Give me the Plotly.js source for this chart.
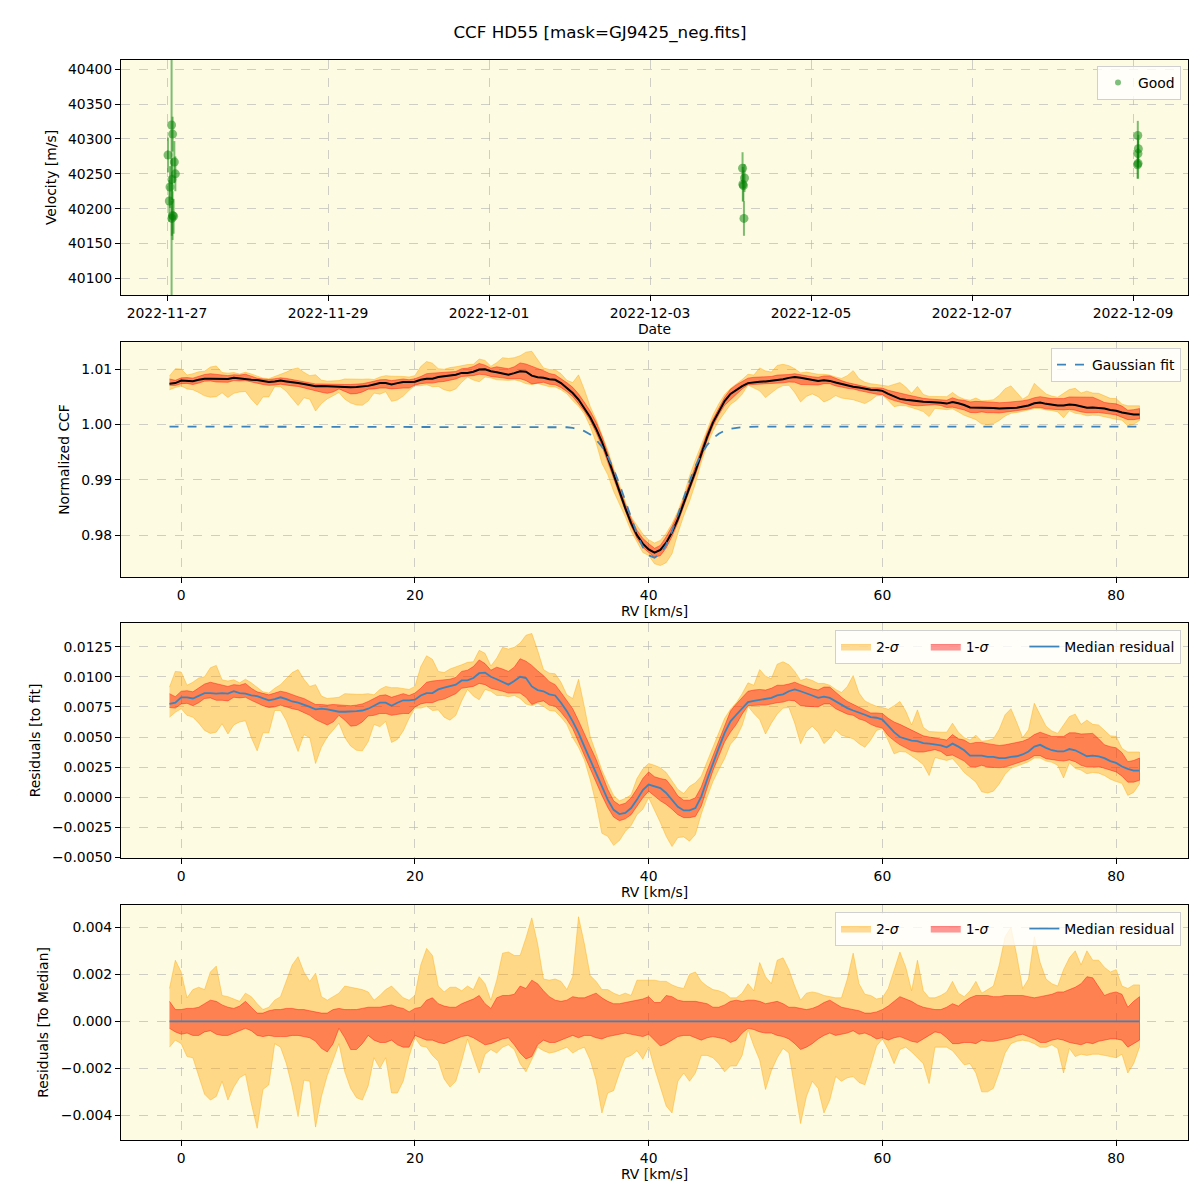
<!DOCTYPE html>
<html><head><meta charset="utf-8">
<script src="https://cdn.plot.ly/plotly-3.0.1.min.js"></script>
<style>html,body{margin:0;padding:0;background:#fff}#chart{width:1200px;height:1200px}</style>
</head><body><div id="chart"></div>
<script>
// ---------- Panel 1: RV time series ----------
const obsTimes = ['2022-11-27 00:18','2022-11-27 01:22','2022-11-27 01:40','2022-11-27 02:11','2022-11-27 02:29','2022-11-27 01:29','2022-11-27 00:54','2022-11-27 00:41','2022-11-27 01:40','2022-11-27 01:58','2022-11-27 01:26',
  '2022-12-04 03:35','2022-12-04 04:10','2022-12-04 03:40','2022-12-04 03:50','2022-12-04 04:00',
  '2022-12-09 01:25','2022-12-09 01:35','2022-12-09 01:28','2022-12-09 01:30','2022-12-09 01:20'];
const obsVelocity = [40277,40320,40307,40267,40250,40242,40231,40211,40190,40189,40186,
  40258,40244,40235,40233,40186,
  40305,40286,40279,40265,40263];
const obsError = [25,400,25,30,25,30,30,30,35,25,25,
  23,20,25,22,25,
  21,20,20,22,20];

// ---------- CCF panels (RV grid in km/s) ----------
const rv = [-1,-0.5,0,0.5,1,1.5,2,2.5,3,3.5,4,4.5,5,5.5,6,6.5,7,7.5,8,8.5,9,9.5,10,10.5,11,11.5,12,12.5,13,13.5,
14,14.5,15,15.5,16,16.5,17,17.5,18,18.5,19,19.5,20,20.5,21,21.5,22,22.5,23,23.5,24,24.5,25,25.5,26,26.5,27,27.5,28,28.5,
29,29.5,30,30.5,31,31.5,32,32.5,33,33.5,34,34.5,35,35.5,36,36.5,37,37.5,38,38.5,39,39.5,40,40.5,41,41.5,42,42.5,43,43.5,
44,44.5,45,45.5,46,46.5,47,47.5,48,48.5,49,49.5,50,50.5,51,51.5,52,52.5,53,53.5,54,54.5,55,55.5,56,56.5,57,57.5,58,58.5,
59,59.5,60,60.5,61,61.5,62,62.5,63,63.5,64,64.5,65,65.5,66,66.5,67,67.5,68,68.5,69,69.5,70,70.5,71,71.5,72,72.5,73,73.5,
74,74.5,75,75.5,76,76.5,77,77.5,78,78.5,79,79.5,80,80.5,81,81.5,82];

// Gaussian fit to the CCF (normalized)
const gaussFit = [0.99965,0.99965,0.99965,0.99965,0.99965,0.99965,0.99965,0.99965,0.99965,0.99965,
0.99965,0.99965,0.99965,0.99965,0.99965,0.99965,0.99965,0.99965,0.99965,0.99965,
0.99965,0.99965,0.99965,0.99965,0.99965,0.99965,0.99965,0.99965,0.99965,0.99965,
0.99965,0.99965,0.99965,0.99965,0.99965,0.99965,0.99965,0.99965,0.99965,0.99965,
0.99965,0.99965,0.99965,0.99965,0.99965,0.99965,0.99965,0.99965,0.99965,0.99965,
0.99965,0.99965,0.99965,0.99965,0.99965,0.99965,0.99965,0.99965,0.99965,0.99965,
0.99965,0.99965,0.99965,0.99965,0.99965,0.99965,0.99965,0.99965,0.99952,0.9994,
0.99919,0.99882,0.99822,0.99731,0.996,0.99422,0.99195,0.98923,0.98621,0.9831,
0.98022,0.97789,0.9764,0.97595,0.97662,0.9783,0.98076,0.98372,0.98683,0.98981,
0.99245,0.99462,0.9963,0.99752,0.99836,0.9989,0.99924,0.99943,0.99954,0.9996,
0.99965,0.99965,0.99965,0.99965,0.99965,0.99965,0.99965,0.99965,0.99965,0.99965,
0.99965,0.99965,0.99965,0.99965,0.99965,0.99965,0.99965,0.99965,0.99965,0.99965,
0.99965,0.99965,0.99965,0.99965,0.99965,0.99965,0.99965,0.99965,0.99965,0.99965,
0.99965,0.99965,0.99965,0.99965,0.99965,0.99965,0.99965,0.99965,0.99965,0.99965,
0.99965,0.99965,0.99965,0.99965,0.99965,0.99965,0.99965,0.99965,0.99965,0.99965,
0.99965,0.99965,0.99965,0.99965,0.99965,0.99965,0.99965,0.99965,0.99965,0.99965,
0.99965,0.99965,0.99965,0.99965,0.99965,0.99965,0.99965];

// Median residual to the fit, in units of 1e-3
const medianResidMilli = [7.75,7.85,8.3,8.3,8.2,8.45,8.65,8.65,8.6,8.65,
8.6,8.8,8.65,8.6,8.45,8.4,8.25,8.05,8.15,8.3,
8.15,7.95,7.85,7.7,7.5,7.3,7.35,7.3,7.2,7.1,
7.1,7.1,7.15,7.2,7.35,7.6,7.85,7.85,7.6,7.85,
8.05,8.05,8.1,8.45,8.65,8.65,8.95,9.1,9.2,9.35,
9.7,9.7,9.9,10.3,10.35,10.0,9.8,9.55,9.35,9.65,
10.0,9.9,9.2,8.9,8.8,8.55,8.45,7.85,7.15,6.3,
5.35,4.2,3.1,1.95,0.9,-0.2,-1.05,-1.4,-1.3,-0.9,
-0.2,0.6,1.05,0.9,0.75,0.35,-0.2,-0.8,-1.1,-1.1,
-0.9,0.05,1.45,2.85,4.1,5.35,6.3,6.85,7.4,7.9,
8.0,8.1,8.15,8.25,8.45,8.55,8.8,8.95,8.8,8.65,
8.45,8.25,8.35,8.25,7.95,7.7,7.4,7.2,7.05,6.85,
6.65,6.6,6.45,5.9,5.4,5.0,4.85,4.7,4.65,4.5,
4.45,4.4,4.3,4.15,4.45,4.2,3.9,3.45,3.45,3.45,
3.35,3.35,3.25,3.25,3.35,3.4,3.55,3.8,4.2,4.35,
4.1,3.9,3.8,3.8,4.0,3.9,3.65,3.4,3.45,3.4,
3.25,3.0,2.85,2.55,2.35,2.2,2.2];

// Spread around the median (1e-3 units): 2-sigma and 1-sigma envelopes
const sig2HiMilli = [1.4,2.6,2.1,1.0,1.35,1.45,1.35,2.1,2.35,1.1,
1.05,0.95,0.85,1.2,1.05,0.75,0.5,0.6,0.9,1.05,
1.7,2.4,2.75,2.1,1.7,2.05,1.05,0.9,1.05,1.2,
1.5,1.45,1.4,1.35,1.25,0.9,1.1,1.35,1.5,1.25,
1.0,0.9,1.1,2.4,3.1,2.8,1.5,1.25,1.45,1.45,
1.3,1.5,1.35,1.9,1.6,0.9,1.75,2.9,2.95,2.8,
2.8,3.55,4.4,3.3,1.8,1.75,1.8,1.7,1.35,1.9,
4.45,3.3,1.95,1.7,1.35,1.35,1.2,1.1,1.2,1.1,
1.75,1.75,1.75,1.75,1.7,1.7,1.55,1.45,1.4,2.0,
2.1,1.7,1.5,1.35,1.3,1.2,1.0,1.0,1.2,1.6,
1.3,2.5,1.9,1.6,2.6,2.7,2.2,1.5,0.9,1.2,
1.25,1.2,1.1,1.05,1.0,1.0,1.8,2.9,1.6,1.15,
1.1,0.95,1.0,1.4,2.2,2.95,2.3,1.3,2.6,1.3,
1.0,1.0,1.1,1.25,1.7,1.2,1.05,1.3,1.7,1.2,
1.35,1.5,2.4,3.6,4.0,2.8,1.4,1.8,3.6,2.5,
1.8,1.6,1.5,2.2,2.7,3.0,2.4,3.0,2.6,2.6,
2.3,2.1,2.2,1.5,1.4,1.55,1.55];
const sig1HiMilli = [0.85,0.5,0.5,0.55,0.55,0.6,0.75,0.9,0.85,0.7,
0.6,0.55,0.65,0.85,0.6,0.35,0.35,0.45,0.5,0.5,
0.55,0.55,0.5,0.5,0.45,0.4,0.35,0.35,0.5,0.55,
0.5,0.5,0.5,0.55,0.6,0.6,0.6,0.65,0.7,0.6,
0.55,0.4,0.55,0.6,0.9,1.0,0.75,0.65,0.6,0.6,
0.75,0.85,0.95,1.1,0.75,0.55,1.0,1.1,1.1,1.15,
1.5,1.4,1.75,1.6,1.3,1.05,0.9,0.85,0.9,1.05,
1.0,1.0,1.1,1.2,1.0,0.85,0.75,0.75,0.8,0.85,
0.9,0.95,1.05,0.8,0.8,1.1,1.05,0.9,0.85,0.85,
0.85,0.8,0.75,0.6,0.6,0.7,0.85,0.9,0.85,0.9,
0.9,0.85,0.75,0.8,0.85,0.75,0.6,0.6,0.55,0.5,
0.55,0.65,0.8,0.9,0.75,0.6,0.55,0.5,0.45,0.35,
0.35,0.4,0.5,0.65,0.85,1.05,0.95,0.85,0.7,0.6,
0.55,0.5,0.5,0.6,0.75,0.65,0.85,1.0,1.1,1.1,
1.1,1.05,1.05,1.1,1.1,1.1,1.1,1.05,1.0,1.05,
1.1,1.15,1.25,1.25,1.35,1.45,1.6,1.9,1.85,1.45,
1.1,1.2,1.25,1.15,0.6,0.85,1.05];
const sig1LoMilli = [-0.3,-0.45,-0.55,-0.5,-0.6,-0.6,-0.45,-0.4,-0.55,-0.6,
-0.6,-0.5,-0.4,-0.3,-0.4,-0.6,-0.65,-0.6,-0.65,-0.65,
-0.65,-0.6,-0.6,-0.65,-0.7,-0.85,-1.15,-1.3,-0.95,-0.3,
-0.7,-1.2,-1.2,-0.95,-0.6,-0.8,-0.9,-0.9,-0.8,-1.0,
-1.1,-1.1,-0.6,-0.7,-0.8,-0.8,-0.9,-0.95,-0.85,-0.75,
-0.65,-0.6,-0.7,-0.85,-1.0,-0.95,-0.85,-0.75,-0.7,-1.0,
-1.35,-1.6,-1.5,-1.0,-0.8,-0.9,-0.9,-0.8,-0.7,-0.6,
-0.7,-0.6,-0.6,-0.7,-0.75,-0.65,-0.6,-0.55,-0.5,-0.55,
-0.6,-0.65,-0.55,-0.8,-1.05,-0.95,-0.8,-0.65,-0.6,-0.6,
-0.7,-0.8,-0.7,-0.65,-0.7,-0.75,-0.9,-0.8,-0.5,-0.3,
-0.35,-0.45,-0.5,-0.5,-0.6,-0.65,-0.75,-0.95,-1.2,-1.1,
-0.95,-0.75,-0.6,-0.5,-0.6,-0.55,-0.5,-0.4,-0.55,-0.5,
-0.6,-0.75,-0.7,-0.8,-0.7,-0.65,-0.75,-0.85,-0.9,-0.75,
-0.6,-0.45,-0.5,-0.7,-0.95,-0.95,-0.9,-0.9,-0.95,-0.8,
-0.85,-0.85,-0.8,-0.75,-0.7,-0.6,-0.55,-0.65,-0.75,-0.9,
-0.9,-0.8,-0.75,-0.8,-0.9,-0.95,-1.0,-0.9,-0.95,-0.85,
-0.8,-0.75,-0.75,-0.8,-1.1,-0.95,-0.8];
const sig2LoMilli = [-1.1,-0.8,-0.95,-1.5,-1.55,-2.3,-3.1,-3.35,-3.2,-2.55,
-3.35,-2.8,-2.4,-2.25,-3.5,-4.55,-2.9,-2.7,-0.95,-1.1,
-1.8,-2.8,-4.05,-2.5,-2.55,-4.5,-3.2,-2.3,-1.65,-0.95,
-2.15,-2.85,-3.25,-3.35,-2.75,-1.55,-2.0,-1.55,-3.05,-3.05,
-2.55,-1.5,-0.7,-1.05,-1.1,-1.45,-1.7,-2.45,-2.8,-2.55,
-1.7,-0.75,-1.5,-2.2,-1.4,-1.2,-1.35,-1.1,-1.0,-1.2,
-1.8,-2.15,-1.6,-1.1,-1.25,-1.35,-1.3,-1.2,-1.1,-1.35,
-1.2,-1.1,-1.65,-2.5,-3.9,-3.05,-2.95,-2.2,-1.55,-1.45,
-1.25,-1.6,-1.1,-2.0,-2.85,-3.6,-3.9,-2.55,-2.2,-2.55,
-2.2,-1.45,-1.45,-1.55,-1.8,-2.15,-1.9,-1.9,-1.45,-0.35,
-1.05,-1.65,-2.9,-2.1,-1.55,-1.15,-1.35,-2.8,-4.35,-3.2,
-2.55,-2.85,-3.9,-3.35,-2.35,-2.55,-2.4,-2.35,-2.6,-2.7,
-1.9,-1.05,-0.75,-1.2,-1.8,-1.2,-1.1,-1.3,-1.55,-1.8,
-2.65,-1.1,-1.1,-1.1,-1.25,-1.55,-1.85,-1.8,-2.2,-3.0,
-3.0,-2.85,-2.15,-1.35,-0.95,-0.85,-0.8,-0.85,-0.95,-1.1,
-1.1,-1.0,-1.15,-2.2,-1.15,-1.5,-1.4,-1.45,-1.4,-1.4,
-1.45,-1.5,-1.55,-1.4,-2.2,-1.8,-1.1];

// ---------- derived series ----------
const MILLI = 1e-3;
const resid = medianResidMilli.map(v => v * MILLI);
const ccfMedian = gaussFit.map((g, i) => g + resid[i]);
const toMedianZero = resid.map(v => v - v);
function band(base, dev) { return base.map((b, i) => b + dev[i] * MILLI); }

const ORANGE = 'rgba(255,165,0,0.4)';
const RED = 'rgba(255,0,0,0.4)';
const BLUE = '#3d84bd';
const FONT = 'DejaVu Sans, sans-serif';
const FS = 13.9;
const NB = '\u00a0';
const LBL2 = '2-<i>σ</i>' + NB.repeat(5);
const LBL1 = '1-<i>σ</i>' + NB.repeat(7);

function poly(xa, hi, lo, color, name, xaxis, yaxis, showlegend, legend) {
  return {
    x: xa.concat(xa.slice().reverse()),
    y: hi.concat(lo.slice().reverse()),
    type: 'scatter', mode: 'lines', fill: 'toself', fillcolor: color,
    line: {color: color, width: 1}, name: name, xaxis: xaxis, yaxis: yaxis,
    showlegend: showlegend, legend: legend, hoverinfo: 'skip'
  };
}

const traces = [];
// Panel 1
traces.push({
  x: obsTimes, y: obsVelocity, type: 'scatter', mode: 'markers', name: 'Good', showlegend: false,
  marker: {color: 'rgba(0,128,0,0.5)', size: 9},
  error_y: {type: 'data', array: obsError, visible: true, color: 'rgba(0,128,0,0.5)', thickness: 2, width: 0},
  xaxis: 'x', yaxis: 'y'
});
traces.push({
  x: [null], y: [null], type: 'scatter', mode: 'markers', name: 'Good',
  marker: {color: 'rgba(0,128,0,0.5)', size: 6}, xaxis: 'x', yaxis: 'y', legend: 'legend'
});
// Panel 2
traces.push(poly(rv, band(ccfMedian, sig2HiMilli), band(ccfMedian, sig2LoMilli), ORANGE, '2-σ', 'x2', 'y2', false, 'legend2'));
traces.push(poly(rv, band(ccfMedian, sig1HiMilli), band(ccfMedian, sig1LoMilli), RED, '1-σ', 'x2', 'y2', false, 'legend2'));
traces.push({x: rv, y: ccfMedian, type: 'scatter', mode: 'lines', line: {color: 'black', width: 2}, xaxis: 'x2', yaxis: 'y2', showlegend: false, name: 'CCF'});
traces.push({x: rv, y: gaussFit, type: 'scatter', mode: 'lines', line: {color: BLUE, width: 1.8, dash: 'dash'}, xaxis: 'x2', yaxis: 'y2', name: 'Gaussian fit', legend: 'legend2'});
// Panel 3
traces.push(poly(rv, band(resid, sig2HiMilli), band(resid, sig2LoMilli), ORANGE, LBL2, 'x3', 'y3', true, 'legend3'));
traces.push(poly(rv, band(resid, sig1HiMilli), band(resid, sig1LoMilli), RED, LBL1, 'x3', 'y3', true, 'legend3'));
traces.push({x: rv, y: resid, type: 'scatter', mode: 'lines', line: {color: BLUE, width: 1.8}, xaxis: 'x3', yaxis: 'y3', name: 'Median residual', legend: 'legend3'});
// Panel 4
traces.push(poly(rv, band(toMedianZero, sig2HiMilli), band(toMedianZero, sig2LoMilli), ORANGE, LBL2, 'x4', 'y4', true, 'legend4'));
traces.push(poly(rv, band(toMedianZero, sig1HiMilli), band(toMedianZero, sig1LoMilli), RED, LBL1, 'x4', 'y4', true, 'legend4'));
traces.push({x: rv, y: toMedianZero, type: 'scatter', mode: 'lines', line: {color: BLUE, width: 1.8}, xaxis: 'x4', yaxis: 'y4', name: 'Median residual', legend: 'legend4'});

function ax(extra) {
  return Object.assign({
    showline: true, mirror: true, linecolor: 'black', linewidth: 1,
    ticks: 'outside', ticklen: 5, tickwidth: 1, tickcolor: 'black',
    showgrid: true, gridcolor: 'rgba(176,176,176,0.6)', griddash: 'dash', gridwidth: 1,
    zeroline: false, automargin: false,
    tickfont: {family: FONT, size: FS, color: 'black'}
  }, extra);
}
const XD = [121/1200, 1188/1200];
const rvRange = [-5.15, 86.15];
function ttl(t, s) { return {text: t, font: {family: FONT, size: FS, color: 'black'}, standoff: s}; }
function leg(y, horiz) {
  return {x: 1181/1200, y: y, xanchor: 'right', yanchor: 'top', xref: 'paper', yref: 'paper',
    orientation: horiz ? 'h' : 'v', bgcolor: 'rgba(255,255,255,0.8)', bordercolor: '#d0d0d0', borderwidth: 1,
    font: {family: FONT, size: FS, color: 'black'}, tracegroupgap: 0};
}

const layout = {
  width: 1200, height: 1200,
  margin: {l: 0, r: 0, t: 0, b: 0},
  paper_bgcolor: 'white', plot_bgcolor: '#fdfbe1',
  font: {family: FONT, size: FS, color: 'black'},
  title: {text: 'CCF HD55 [mask=GJ9425_neg.fits]', x: 0.5, xanchor: 'center', y: 1 - 32/1200, yanchor: 'middle',
    font: {family: FONT, size: 16.7, color: 'black'}},
  xaxis: ax({domain: XD, anchor: 'y', type: 'date', range: ['2022-11-26 10:17', '2022-12-09 16:23'],
    tickmode: 'linear', tick0: '2022-11-27', dtick: 172800000, tickformat: '%Y-%m-%d', title: ttl('Date', 4)}),
  yaxis: ax({domain: [1 - 295/1200, 1 - 60/1200], anchor: 'x', range: [40076, 40413.4], dtick: 50, tickformat: 'd',
    title: ttl('Velocity [m/s]', 8)}),
  xaxis2: ax({domain: XD, anchor: 'y2', range: rvRange, dtick: 20, title: ttl('RV [km/s]', 4)}),
  yaxis2: ax({domain: [1 - 577/1200, 1 - 342/1200], anchor: 'x2', range: [0.97246, 1.01493], dtick: 0.01, tickformat: '.2f',
    title: ttl('Normalized CCF', 8)}),
  xaxis3: ax({domain: XD, anchor: 'y3', range: rvRange, dtick: 20, title: ttl('RV [km/s]', 4)}),
  yaxis3: ax({domain: [1 - 858/1200, 1 - 623/1200], anchor: 'x3', range: [-0.00505, 0.01447], dtick: 0.0025, tickformat: '.4f',
    title: ttl('Residuals [to fit]', 8)}),
  xaxis4: ax({domain: XD, anchor: 'y4', range: rvRange, dtick: 20, title: ttl('RV [km/s]', 4)}),
  yaxis4: ax({domain: [1 - 1140/1200, 1 - 905/1200], anchor: 'x4', range: [-0.00505, 0.00495], dtick: 0.002, tickformat: '.3f',
    title: ttl('Residuals [To Median]', 8)}),
  legend: leg(1 - 66/1200, false),
  legend2: leg(1 - 348/1200, false),
  legend3: leg(1 - 630/1200, true),
  legend4: leg(1 - 912/1200, true),
  showlegend: true
};

Plotly.newPlot('chart', traces, layout, {staticPlot: true, displayModeBar: false});
</script></body></html>
